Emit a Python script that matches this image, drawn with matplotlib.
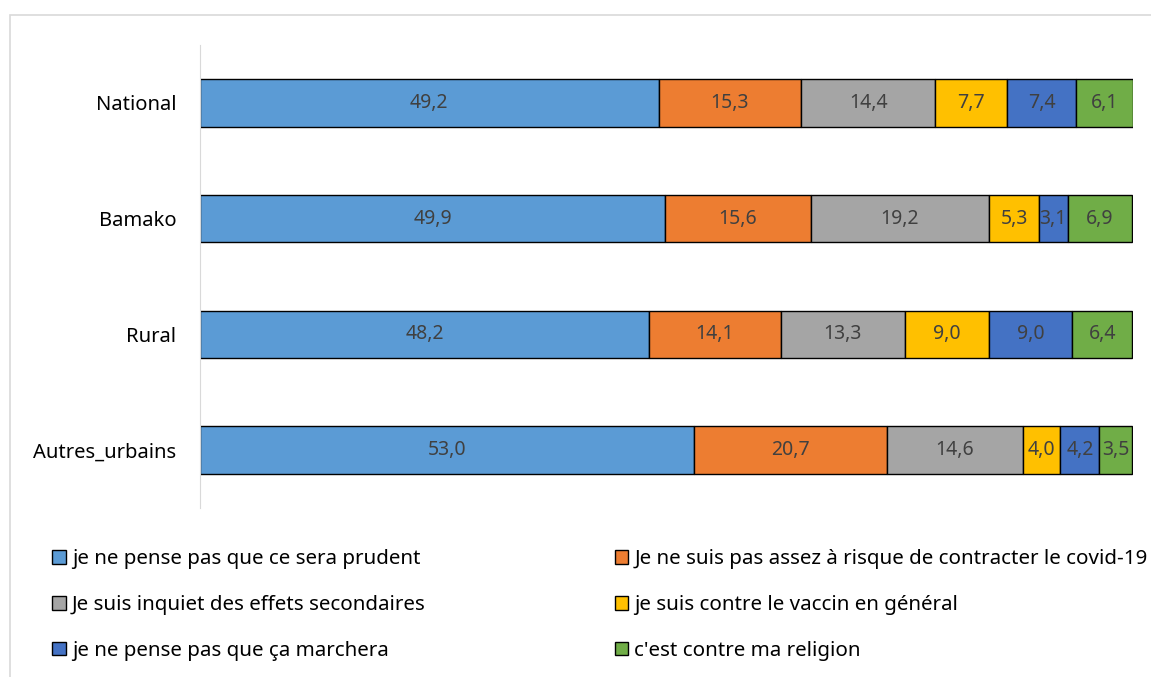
import numpy as np
import matplotlib.pyplot as plt
from matplotlib.patches import Rectangle, Patch

plt.rcParams['font.family'] = ['Noto Sans', 'DejaVu Sans']

categories = ["National", "Bamako", "Rural", "Autres_urbains"]
series = ["je ne pense pas que ce sera prudent",
          "Je ne suis pas assez à risque de contracter le covid-19",
          "Je suis inquiet des effets secondaires",
          "je suis contre le vaccin en général",
          "je ne pense pas que ça marchera",
          "c'est contre ma religion"]
values = np.array([
    [49.2, 49.9, 48.2, 53.0],
    [15.3, 15.6, 14.1, 20.7],
    [14.4, 19.2, 13.3, 14.6],
    [7.7, 5.3, 9.0, 4.0],
    [7.4, 3.1, 9.0, 4.2],
    [6.1, 6.9, 6.4, 3.5],
])
colors = ["#5B9BD5", "#ED7D31", "#A5A5A5", "#FFC000", "#4472C4", "#70AD47"]

fig = plt.figure(figsize=(11.51, 6.77), dpi=100)
ax = fig.add_axes([200/1151, 1-508/677, 933/1151, 463/677])

# cadre gris autour du graphique
fig.patches.append(Rectangle((10/1151, -0.1), 1.2, 1-15/677+0.1, transform=fig.transFigure,
                             fill=False, edgecolor="#D9D9D9", linewidth=1.2))

y = np.arange(len(categories))
left = np.zeros(len(categories))
for vals, col, lab in zip(values, colors, series):
    ax.barh(y, vals, left=left, height=0.41, color=col, edgecolor="black",
            linewidth=1, label=lab)
    for yi, l, v in zip(y, left, vals):
        ax.text(l + v/2, yi, f"{v:.1f}".replace(".", ","), ha="center", va="center",
                fontsize=14, color="#404040")
    left += vals

ax.set_xlim(0, 100.1)
ax.set_ylim(3.5, -0.5)
ax.set_yticks(y)
ax.set_yticklabels(categories, fontsize=14.5)
ax.tick_params(axis="y", length=0, pad=17)
ax.set_xticks([])
for s in ["top", "right", "bottom"]:
    ax.spines[s].set_visible(False)
ax.spines["left"].set_color("#D9D9D9")

handles = [Patch(facecolor=c, edgecolor="black", label=s) for c, s in zip(colors, series)]
order = [0, 2, 4, 1, 3, 5]
fig.legend([handles[i] for i in order], [series[i] for i in order], ncol=2,
           loc="upper left", bbox_to_anchor=(36/1151, 1-533/677), frameon=False,
           fontsize=14.8, handlelength=0.65, handleheight=0.65, handletextpad=0.3,
           columnspacing=9.2, labelspacing=1.25, borderpad=0.3)

plt.savefig("out.png", dpi=100)
